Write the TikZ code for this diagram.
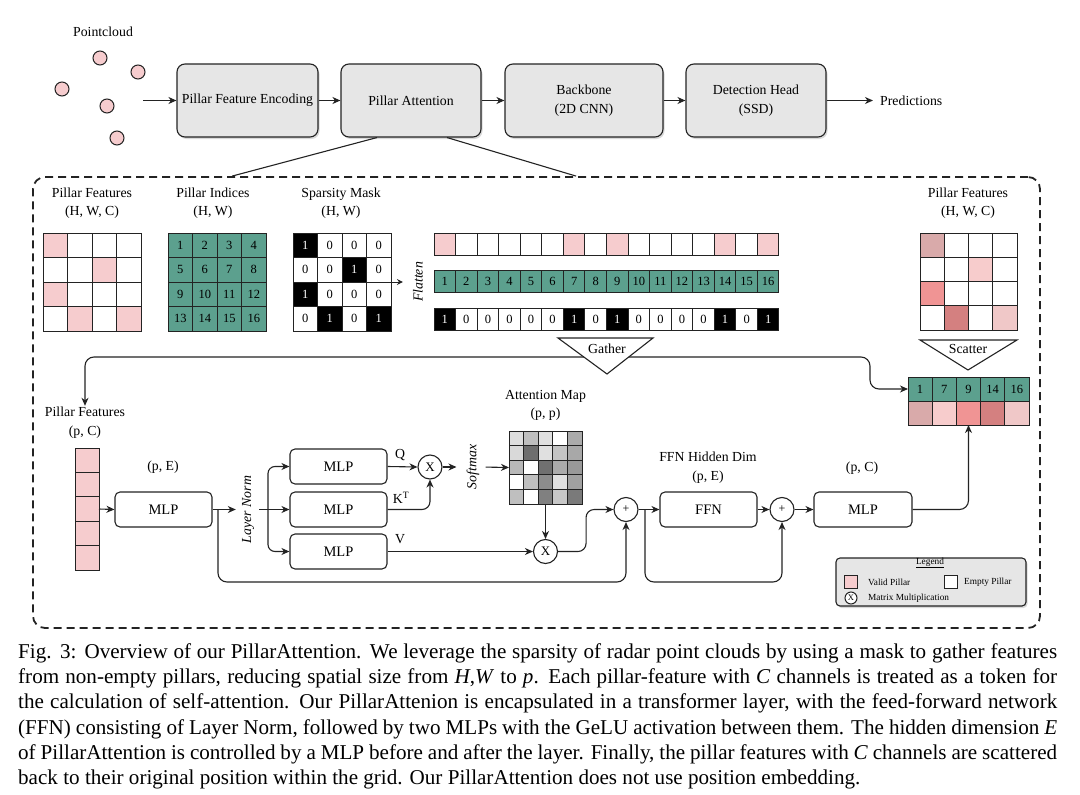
\documentclass[tikz,border=0pt]{standalone}
\usepackage{fontspec}
\setmainfont{Liberation Serif}
\usetikzlibrary{arrows.meta,shadows,calc}
\definecolor{pinkc}{RGB}{246,204,206}
\definecolor{tealc}{RGB}{92,160,142}
\definecolor{boxg}{RGB}{230,230,230}
\definecolor{sA}{RGB}{217,170,170}
\definecolor{sB}{RGB}{247,204,204}
\definecolor{sC}{RGB}{240,148,148}
\definecolor{sD}{RGB}{212,128,128}
\definecolor{sE}{RGB}{240,200,200}
\definecolor{edge}{RGB}{35,35,35}
\newcommand\fs[1]{\fontsize{#1}{#1}\selectfont}
\newcommand\capline[1]{\makebox[1039pt][s]{#1}}
\begin{document}
\begin{tikzpicture}[x=1pt,y=-1pt,
  conn/.style={draw=edge, line width=1.1pt, -{Stealth[length=8pt,width=7pt,inset=2.5pt]}},
  biconn/.style={draw=edge, line width=1.1pt, {Stealth[length=8pt,width=7pt,inset=2.5pt]}-{Stealth[length=8pt,width=7pt,inset=2.5pt]}},
  smallconn/.style={draw=edge, line width=1pt, -{Stealth[length=6pt,width=6pt,inset=2pt]}},
  plain/.style={draw=edge, line width=1.1pt},
  bigbox/.style={draw=edge, line width=1.1pt, rounded corners=8pt, fill=boxg, minimum height=73pt, align=center, font=\fontsize{13.8}{19}\selectfont, drop shadow={shadow xshift=1.5pt, shadow yshift=-2pt, opacity=0.3}},
  mlp/.style={draw=edge, line width=1.1pt, rounded corners=5pt, fill=white, minimum width=97pt, minimum height=35pt, font=\fs{14.5}},
  op/.style={draw=edge, circle, line width=1.1pt, minimum size=24pt, inner sep=0pt, fill=white, font=\fs{13}},
  lbl/.style={font=\fs{13.8}, inner sep=1pt, align=center},
  lbl2/.style={font=\fontsize{13.8}{18.5}\selectfont, inner sep=1pt, align=center},
  rot/.style={font=\fs{13.8}\itshape, rotate=90, inner sep=1pt},
  cell/.style={draw=edge, line width=1pt, minimum size=24.5pt, inner sep=0pt, outer sep=0pt, font=\fs{12.5}},
  fcell/.style={draw=edge, line width=1pt, minimum width=21.56pt, minimum height=22pt, inner sep=0pt, outer sep=0pt, font=\fs{12.5}},
  scell/.style={draw=edge, line width=1pt, minimum width=24.2pt, minimum height=24pt, inner sep=0pt, outer sep=0pt, font=\fs{12.5}},
  acell/.style={draw=edge, line width=1pt, minimum size=14.6pt, inner sep=0pt, outer sep=0pt},
  pt/.style={circle, draw=edge, fill=pinkc, minimum size=14pt, inner sep=0pt, line width=1pt},
  legtxt/.style={font=\fs{9.3}, inner sep=0pt, anchor=west},
  captxt/.style={font=\fs{21.1}, inner sep=0pt, anchor=base west}
]
\useasboundingbox (0,0) rectangle (1080,795);

% ---------- top pipeline ----------
\node[lbl] (pcl) at (103,32) {Pointcloud};
\foreach \n/\x/\y in {1/100/58, 2/138/72, 3/62/89, 4/107/106, 5/117/138}
  \node[pt] (pp\n) at (\x,\y) {};
\coordinate (pcin) at (143,100.5);
\node[bigbox, minimum width=141pt] (pfe) at (247.5,100.5) {Pillar Feature Encoding};
\node[bigbox, minimum width=140pt] (pa) at (411,100.5) {Pillar Attention};
\node[bigbox, minimum width=158pt] (bb) at (584,100.5) {Backbone\\(2D CNN)};
\node[bigbox, minimum width=140pt] (dh) at (756,100.5) {Detection Head\\(SSD)};
\node[lbl, anchor=west] (pred) at (879,100.5) {Predictions};
\draw[conn] (pcin) -- (pfe.west);
\draw[conn] (pfe.east) -- (pa.west);
\draw[conn] (pa.east) -- (bb.west);
\draw[conn] (bb.east) -- (dh.west);
\draw[conn, shorten >=6pt] (dh.east) -- (pred.west);

% ---------- zoom box ----------
\node[draw=edge, line width=1.8pt, dash pattern=on 8pt off 5pt, rounded corners=12pt,
      minimum width=1007pt, minimum height=451pt, inner sep=0pt] (zoom) at (536.5,402.5) {};
\draw[plain] ($(pa.south)+(-34,0)$) -- ($(zoom.north west)+(200,0)$);
\draw[plain] ($(pa.south)+(36,0)$) -- ($(zoom.north west)+(544,0)$);

% ---------- titles ----------
\node[lbl2] (t1) at (92,203) {Pillar Features\\(H, W, C)};
\node[lbl2] (t2) at (213,203) {Pillar Indices\\(H, W)};
\node[lbl2] (t3) at (341,203) {Sparsity Mask\\(H, W)};
\node[lbl2] (t4) at (968,203) {Pillar Features\\(H, W, C)};

% pillar features grid
\foreach \fc [count=\i from 0] in {pinkc,white,white,white, white,white,pinkc,white, pinkc,white,white,white, white,pinkc,white,pinkc} {
  \pgfmathtruncatemacro\ro{\i/4}
  \pgfmathtruncatemacro\co{mod(\i,4)}
  \node[cell, fill=\fc] (pf-\ro-\co) at ({43+24.5*(\co+0.5)},{233+24.5*(\ro+0.5)}) {};
}
% pillar indices grid
\foreach \i in {0,...,15} {
  \pgfmathtruncatemacro\ro{\i/4}
  \pgfmathtruncatemacro\co{mod(\i,4)}
  \pgfmathtruncatemacro\nn{\i+1}
  \node[cell, fill=tealc] (pi-\ro-\co) at ({168+24.5*(\co+0.5)},{233+24.5*(\ro+0.5)}) {\nn};
}
% sparsity mask grid
\foreach \v [count=\i from 0] in {1,0,0,0, 0,0,1,0, 1,0,0,0, 0,1,0,1} {
  \pgfmathtruncatemacro\ro{\i/4}
  \pgfmathtruncatemacro\co{mod(\i,4)}
  \ifnum\v=1 \def\fc{black}\def\tc{white}\else\def\fc{white}\def\tc{black}\fi
  \node[cell, fill=\fc, text=\tc] (sm-\ro-\co) at ({293+24.5*(\co+0.5)},{233+24.5*(\ro+0.5)}) {\v};
}
% flatten
\node[rot] (fl) at (418,282) {Flatten};
\draw[smallconn, shorten >=9pt] (sm-1-3.south east) -- (fl.north);

% flattened rows
\foreach \v [count=\i from 0] in {1,0,0,0, 0,0,1,0, 1,0,0,0, 0,1,0,1} {
  \pgfmathtruncatemacro\nn{\i+1}
  \ifnum\v=1 \def\fc{black}\def\tc{white}\def\pc{pinkc}\else\def\fc{white}\def\tc{black}\def\pc{white}\fi
  \node[fcell, fill=\pc] (fa-\i) at ({434+21.56*(\i+0.5)},244) {};
  \node[fcell, fill=tealc] (fb-\i) at ({434+21.56*(\i+0.5)},281) {\nn};
  \node[fcell, fill=\fc, text=\tc] (fm-\i) at ({434+21.56*(\i+0.5)},319) {\v};
}

% scattered grid (right)
\foreach \fc [count=\i from 0] in {sA,white,white,white, white,white,sB,white, sC,white,white,white, white,sD,white,sE} {
  \pgfmathtruncatemacro\ro{\i/4}
  \pgfmathtruncatemacro\co{mod(\i,4)}
  \node[cell, minimum size=24.25pt, fill=\fc] (so-\ro-\co) at ({920+24.25*(\co+0.5)},{233+24.25*(\ro+0.5)}) {};
}

% scatter block
\foreach \nn/\fc [count=\i from 0] in {1/sA,7/sB,9/sC,14/sD,16/sE} {
  \node[scell, fill=tealc] (st-\i) at ({908+24.2*(\i+0.5)},389) {\nn};
  \node[scell, fill=\fc] (sb-\i) at ({908+24.2*(\i+0.5)},413) {};
}

% gather connector
\node[lbl2] (pfp) at (85,422.5) {Pillar Features\\(p, C)};
\coordinate (gb) at (870,357);
\draw[biconn, rounded corners=9pt] (pfp.north) |- (gb) |- (st-0.west);
\draw[plain, fill=white] (558,338) -- (653,338) -- (607,374) -- cycle;
\node[lbl] (gat) at (607,348.5) {Gather};
\draw[plain, fill=white] (920,340) -- (1017,340) -- (968,370) -- cycle;
\node[lbl] (sca) at (968,348.5) {Scatter};

% ---------- lower section ----------
\foreach \i in {0,...,4}
  \node[draw=edge, line width=1pt, fill=pinkc, minimum width=24pt, minimum height=24.4pt, inner sep=0pt, outer sep=0pt] (pc-\i) at (87,{448+24.4*(\i+0.5)}) {};

\node[mlp] (mlp1) at (163.5,509.5) {MLP};
\node[lbl] (pe1) at (163,467) {(p, E)};
\node[rot] (ln) at (248,509.5) {Layer Norm};
\node[mlp] (mlpq) at (338.5,466.5) {MLP};
\node[mlp] (mlpk) at (338.5,509.5) {MLP};
\node[mlp] (mlpv) at (338.5,551.5) {MLP};
\node[lbl] (ql) at (400,455) {Q};
\node[lbl] (kl) at (401,498) {K\textsuperscript{T}};
\node[lbl] (vl) at (400,539) {V};
\node[op] (x1) at (430,467) {X};
\node[rot] (smx) at (473,467) {Softmax};
\node[lbl2] (aml) at (545.5,405.5) {Attention Map\\(p, p)};
\foreach \g [count=\i from 0] in {13,25,12,0,33, 15,57,12,23,34, 28,0,56,33,40, 0,25,45,12,37, 25,0,50,22,52} {
  \pgfmathtruncatemacro\ro{\i/5}
  \pgfmathtruncatemacro\co{mod(\i,5)}
  \node[acell, fill=black!\g] (am-\ro-\co) at ({509+14.6*(\co+0.5)},{431+14.6*(\ro+0.5)}) {};
}
\node[op] (x2) at (545.5,551.5) {X};
\node[op, font=\fs{12}] (p1) at (626,509.5) {+};
\node[mlp] (ffn) at (708.5,509.5) {FFN};
\node[lbl2] (ffnl) at (708,467.5) {FFN Hidden Dim\\(p, E)};
\node[op, font=\fs{12}] (p2) at (782,509.5) {+};
\node[mlp, minimum width=98pt] (mlp3) at (863,509.5) {MLP};
\node[lbl] (pc3) at (862,468) {(p, C)};

\draw[conn] (pc-2.east) -- (mlp1.west);
\draw[conn, shorten >=5pt] (mlp1.east) -- (ln.north);
\coordinate (fork) at (268,509.5);
\draw[conn, shorten <=4pt] (ln.south) -- (mlpk.west);
\draw[conn, rounded corners=7pt] (fork) |- (mlpq.west);
\draw[conn, rounded corners=7pt] (fork) |- (mlpv.west);
\coordinate (res1) at (218,509.5);
\draw[conn, rounded corners=9pt] (res1) -- ++(0,72.5) -| (p1.south);
\draw[conn] (mlpq.east) -- (x1.west);
\draw[conn, rounded corners=8pt] (mlpk.east) -| (x1.south);
\draw[conn, shorten >=9pt] (x1.east) -- (smx.north);
\draw[conn, shorten <=5pt] (smx.south) -- (am-2-0.west);
\draw[conn] (am-4-2.south) -- (x2.north);
\draw[conn] (mlpv.east) -- (x2.west);
\draw[conn, rounded corners=8pt] (x2.east) -- ++(28,0) |- (p1.west);
\draw[conn] (p1.east) -- (ffn.west);
\coordinate (res2) at (645,509.5);
\draw[conn, rounded corners=9pt] (res2) -- ++(0,72.5) -| (p2.south);
\draw[conn] (ffn.east) -- (p2.west);
\draw[conn] (p2.east) -- (mlp3.west);
\draw[conn, rounded corners=9pt] (mlp3.east) -| (sb-2.south);

% ---------- legend ----------
\node[draw=edge, line width=1.1pt, rounded corners=4pt, fill=boxg, minimum width=190pt, minimum height=48pt,
      drop shadow={shadow xshift=1.5pt, shadow yshift=-2pt, opacity=0.3}] (leg) at (931,582) {};
\node[font=\fs{9.3}, inner sep=0pt] (legt) at (930,563) {\underline{Legend}};
\node[draw=edge, fill=pinkc, minimum size=13pt, inner sep=0pt, line width=1pt] (lgv) at (850.5,582) {};
\node[legtxt] (lgvt) at (868,582) {Valid Pillar};
\node[draw=edge, fill=white, minimum size=13pt, inner sep=0pt, line width=1pt] (lge) at (950.5,582) {};
\node[legtxt] (lget) at (964,582) {Empty Pillar};
\node[draw=edge, circle, fill=white, minimum size=12pt, inner sep=0pt, line width=1pt, font=\fs{8.5}] (lgx) at (851,598) {X};
\node[legtxt] (lgxt) at (868,598) {Matrix Multiplication};

% ---------- caption ----------
\node[captxt] (cap1) at (18,658) {\capline{Fig. 3: Overview of our PillarAttention. We leverage the sparsity of radar point clouds by using a mask to gather features}};
\node[captxt] (cap2) at (18,683) {\capline{from non-empty pillars, reducing spatial size from \textit{H},\textit{W} to \textit{p}. Each pillar-feature with \textit{C} channels is treated as a token for}};
\node[captxt] (cap3) at (18,708) {\capline{the calculation of self-attention. Our PillarAttenion is encapsulated in a transformer layer, with the feed-forward network}};
\node[captxt] (cap4) at (18,734) {\capline{(FFN) consisting of Layer Norm, followed by two MLPs with the GeLU activation between them. The hidden dimension \textit{E}}};
\node[captxt] (cap5) at (18,759) {\capline{of PillarAttention is controlled by a MLP before and after the layer. Finally, the pillar features with \textit{C} channels are scattered}};
\node[captxt] (cap6) at (18,784) {back to their original position within the grid. Our PillarAttention does not use position embedding.};
\end{tikzpicture}
\end{document}
